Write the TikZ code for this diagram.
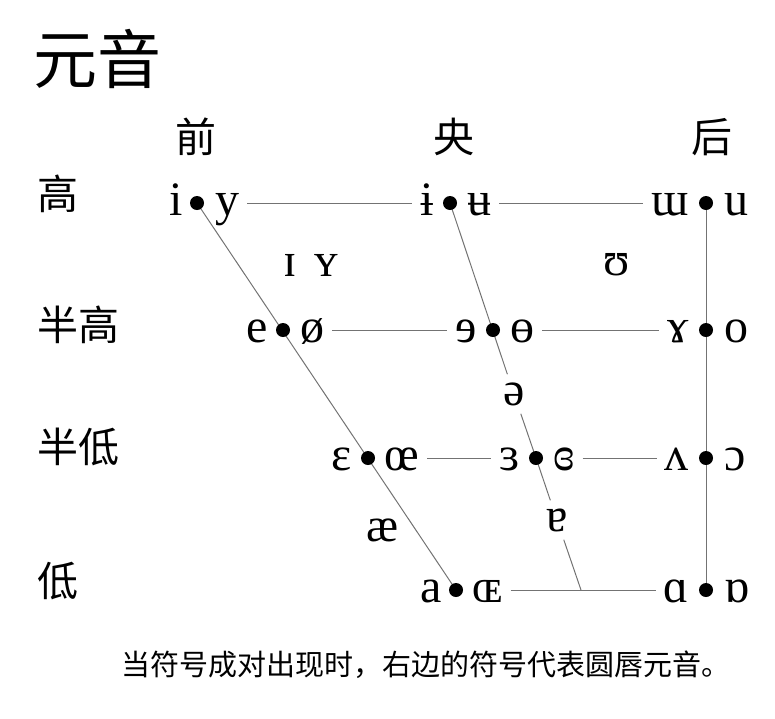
\documentclass[tikz,border=0pt]{standalone}
\usepackage{fontspec}
\setmainfont{Liberation Serif}
\newfontfamily\cjk{Noto Sans CJK SC}
\begin{document}
\begin{tikzpicture}[x=1pt,y=-1pt,
    ipa/.style={inner sep=0pt, font=\fontsize{48}{54}\selectfont},
    lft/.style={ipa, anchor=base east},
    rgt/.style={ipa, anchor=base west},
    cut/.style={ipa, inner sep=8pt},
    zh/.style={inner sep=0pt, font=\cjk\fontsize{41}{48}\selectfont},
    rule/.style={black!55, line width=1pt},
    gap/.style={rule, shorten <=8pt, shorten >=8pt}]
  \useasboundingbox (0,0) rectangle (775,718);

  \coordinate (f1) at (197,203);
  \coordinate (f2) at (283,330);
  \coordinate (f3) at (368,458);
  \coordinate (f4) at (456,590);
  \coordinate (c1) at (450,203);
  \coordinate (c2) at (493,330);
  \coordinate (c3) at (536,458);
  \coordinate (c4) at (581,590);
  \coordinate (b1) at (706,203);
  \coordinate (b2) at (706,330);
  \coordinate (b3) at (706,458);
  \coordinate (b4) at (706,590);

  \node[zh, font=\cjk\fontsize{64}{70}\selectfont, anchor=west] (title) at (33,59) {元音};
  \node[zh] (front) at (196,137) {前};
  \node[zh] (central) at (454,137) {央};
  \node[zh] (back) at (712,137) {后};
  \node[zh, anchor=west] (high) at (37,194) {高};
  \node[zh, anchor=west] (mhigh) at (37,325) {半高};
  \node[zh, anchor=west] (mlow) at (37,447) {半低};
  \node[zh, anchor=west] (low) at (37,581) {低};

  \node[lft] (i) at ([xshift=-14pt,yshift=-12pt]f1) {i};
  \node[rgt] (y) at ([xshift=18pt,yshift=-12pt]f1) {y};
  \node[lft] (ibar) at ([xshift=-16pt,yshift=-12pt]c1) {ɨ};
  \node[rgt] (ubar) at ([xshift=17pt,yshift=-12pt]c1) {ʉ};
  \node[lft] (turnm) at ([xshift=-17pt,yshift=-12pt]b1) {ɯ};
  \node[rgt] (u) at ([xshift=18pt,yshift=-12pt]b1) {u};

  \node[lft] (e) at ([xshift=-15pt,yshift=-12pt]f2) {e};
  \node[rgt] (oslash) at ([xshift=17pt,yshift=-12pt]f2) {ø};
  \node[lft] (reve) at ([xshift=-16pt,yshift=-12pt]c2) {ɘ};
  \node[rgt] (obar) at ([xshift=17pt,yshift=-12pt]c2) {ɵ};
  \node[lft] (ramshorn) at ([xshift=-17pt,yshift=-12pt]b2) {ɤ};
  \node[rgt] (o) at ([xshift=18pt,yshift=-12pt]b2) {o};

  \node[lft] (eps) at ([xshift=-16pt,yshift=-12pt]f3) {ɛ};
  \node[rgt] (oe) at ([xshift=16pt,yshift=-12pt]f3) {œ};
  \node[lft] (reps) at ([xshift=-16pt,yshift=-12pt]c3) {ɜ};
  \node[rgt] (ceps) at ([xshift=17pt,yshift=-12pt]c3) {ɞ};
  \node[lft] (turnv) at ([xshift=-17pt,yshift=-12pt]b3) {ʌ};
  \node[rgt] (oo) at ([xshift=18pt,yshift=-12pt]b3) {ɔ};

  \node[lft] (a) at ([xshift=-14pt,yshift=-12pt]f4) {a};
  \node[rgt] (OE) at ([xshift=16pt,yshift=-12pt]f4) {ɶ};
  \node[lft] (alpha) at ([xshift=-17pt,yshift=-12pt]b4) {ɑ};
  \node[rgt] (turnalpha) at ([xshift=18pt,yshift=-12pt]b4) {ɒ};

  \node[ipa] (smallcapi) at (290,265) {ɪ};
  \node[ipa] (smallcapy) at (326,265) {ʏ};
  \node[ipa] (upsilon) at (617,265) {ʊ};
  \node[cut] (schwa) at (514,394) {ə};
  \node[cut] (turna) at (557,520) {ɐ};
  \node[ipa] (ash) at (383,530) {æ};

  \draw[rule] (f1) -- (f4);
  \draw[rule] (b1) -- (b4);
  \draw[rule] (c1) -- (schwa) -- (c3) -- (turna) -- (c4);

  \draw[gap] (y.east |- f1) -- (ibar.west |- c1);
  \draw[gap] (ubar.east |- c1) -- (turnm.west |- b1);
  \draw[gap] (oslash.east |- f2) -- (reve.west |- c2);
  \draw[gap] (obar.east |- c2) -- (ramshorn.west |- b2);
  \draw[gap] (oe.east |- f3) -- (reps.west |- c3);
  \draw[gap] (ceps.east |- c3) -- (turnv.west |- b3);
  \draw[gap] (OE.east |- f4) -- (alpha.west |- b4);

  \foreach \d in {f1,f2,f3,f4,c1,c2,c3,b1,b2,b3,b4}
    \fill (\d) circle[radius=7pt];

  \node[zh, font=\cjk\fontsize{29}{34}\selectfont] (note) at (426,665) {当符号成对出现时，右边的符号代表圆唇元音。};
\end{tikzpicture}
\end{document}
